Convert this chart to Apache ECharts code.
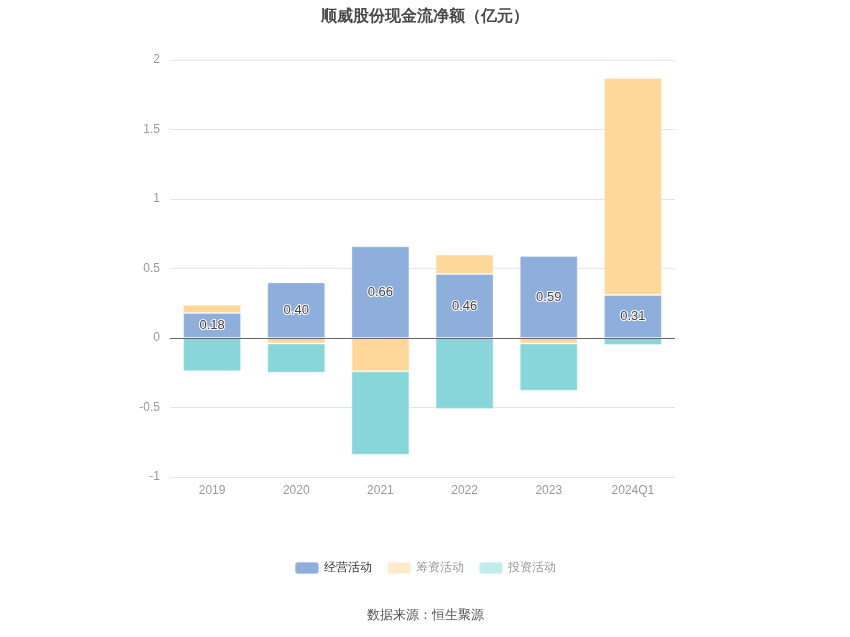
<!DOCTYPE html>
<html>
<head>
<meta charset="utf-8">
<script src="https://cdn.jsdelivr.net/npm/echarts@6/dist/echarts.min.js"></script>
<style>
  html, body { margin: 0; padding: 0; background: #fff; }
  #main { width: 850px; height: 637px; }
</style>
</head>
<body>
<div id="main"></div>
<script>
// 年份
const years = ['2019', '2020', '2021', '2022', '2023', '2024Q1']
// 经营活动 / 筹资活动 / 投资活动 现金流净额（亿元）
const operating = [0.18, 0.40, 0.66, 0.46, 0.59, 0.31]
const financing = [0.06, -0.04, -0.24, 0.14, -0.04, 1.56]
const investing = [-0.24, -0.21, -0.60, -0.51, -0.34, -0.05]

const chart = echarts.init(document.getElementById('main'))

const barBase = {
  type: 'bar',
  stack: 'total',
  barWidth: 58,
  itemStyle: { borderColor: 'rgba(255,255,255,0.35)', borderWidth: 1 }
}

chart.setOption({
  animation: false,
  title: {
    text: '顺威股份现金流净额（亿元）',
    left: 'center',
    top: 4,
    textStyle: { fontSize: 16, fontWeight: 'bold', color: '#484848' }
  },
  graphic: [{
    type: 'text',
    left: 'center',
    top: 609,
    style: { text: '数据来源：恒生聚源', fontSize: 13, fill: '#555' }
  }],
  legend: {
    bottom: 57,
    left: 'center',
    itemWidth: 24,
    itemHeight: 12,
    itemGap: 14,
    icon: 'roundRect',
    textStyle: { fontSize: 12, color: '#999' },
    data: [
      { name: '经营活动', textStyle: { color: '#333' } },
      { name: '筹资活动', itemStyle: { color: '#ffeacc' } },
      { name: '投资活动', itemStyle: { color: '#c2ebec' } }
    ]
  },
  grid: { left: 170, right: 175, top: 60, bottom: 160 },
  xAxis: {
    type: 'category',
    data: years,
    axisLine: { show: false },
    axisTick: { show: false },
    axisLabel: { color: '#999', fontSize: 12, margin: 8 }
  },
  yAxis: {
    type: 'value',
    min: -1,
    max: 2,
    interval: 0.5,
    axisLine: { show: false },
    axisTick: { show: false },
    axisLabel: { color: '#999', fontSize: 12, margin: 10 },
    splitLine: { lineStyle: { color: '#e0e5f0' } }
  },
  series: [
    {
      ...barBase,
      name: '经营活动',
      data: operating,
      color: '#8eaedb',
      label: {
        show: true,
        position: 'inside',
        color: '#444',
        fontSize: 13,
        textBorderColor: '#fff',
        textBorderWidth: 2,
        formatter: p => p.value.toFixed(2)
      },
      markLine: {
        silent: true,
        symbol: 'none',
        label: { show: false },
        lineStyle: { color: '#666', type: 'solid', width: 1 },
        data: [{ yAxis: 0 }]
      }
    },
    { ...barBase, name: '筹资活动', data: financing, color: '#ffd899' },
    { ...barBase, name: '投资活动', data: investing, color: '#88d6d9' }
  ]
})
</script>
</body>
</html>
